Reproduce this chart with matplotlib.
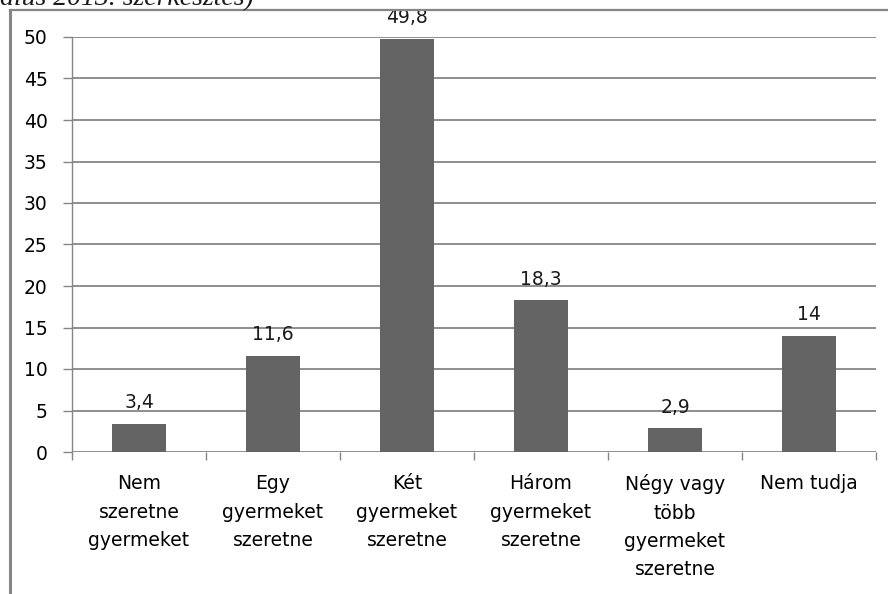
import matplotlib
matplotlib.use("Agg")
import matplotlib.pyplot as plt
from matplotlib.lines import Line2D

GRAY = "#868686"; BAR = "#646464"; INK = "#1a1a1a"
plt.rcParams.update({"font.family": ["DejaVu Sans"], "text.color": INK})

categories = ["Nem\nszeretne\ngyermeket", "Egy\ngyermeket\nszeretne", "Két\ngyermeket\nszeretne",
              "Három\ngyermeket\nszeretne", "Négy vagy\ntöbb\ngyermeket\nszeretne", "Nem tudja"]
values = [3.4, 11.6, 49.8, 18.3, 2.9, 14]
value_labels = ["3,4", "11,6", "49,8", "18,3", "2,9", "14"]
yticks = [0, 5, 10, 15, 20, 25, 30, 35, 40, 45, 50]

W, H = 888, 594
FS = 13.5
fig = plt.figure(figsize=(W / 100, H / 100), dpi=100)
ax = fig.add_axes([72 / W, 1 - 452 / H, (876 - 72) / W, (452 - 37) / H])

xs = list(range(len(categories)))
ax.bar(xs, values, width=0.4, color=BAR, zorder=3)
for x, v, lab in zip(xs, values, value_labels):
    ax.annotate(lab, (x, v), xytext=(0, 15), textcoords="offset points",
                ha="center", va="center", fontsize=FS, color=INK, zorder=4)

ax.set_xlim(-0.5, len(categories) - 0.5)
ax.set_ylim(0, 50)
ax.set_yticks(yticks)
ax.set_yticklabels([str(t) for t in yticks], fontsize=FS)
ax.set_xticks(xs)
ax.set_xticklabels(categories, fontsize=FS, linespacing=1.62, va="top")
ax.set_xticks([i - 0.5 for i in range(len(categories) + 1)], minor=True)
ax.tick_params(axis="x", which="major", length=0, pad=16)
ax.tick_params(axis="x", which="minor", length=6, width=1, color=GRAY, direction="out")
ax.tick_params(axis="y", length=6.5, width=1, color=GRAY, pad=11)
ax.yaxis.grid(True, color=GRAY, lw=1.3, zorder=0)
ax.set_axisbelow(True)
for s in ["top", "right", "bottom"]:
    ax.spines[s].set_visible(False)
ax.spines["left"].set_color(GRAY)
ax.spines["left"].set_linewidth(1)

# outer frame of the original picture (left and top edges)
fig.add_artist(Line2D([10 / W, 10 / W], [0, 1 - 10 / H], color=GRAY, lw=2.2, transform=fig.transFigure))
fig.add_artist(Line2D([10 / W, 1], [1 - 10 / H, 1 - 10 / H], color=GRAY, lw=1.6, transform=fig.transFigure))

# source line cut off at the top of the picture
fig.text(0, 1 - 5 / H, "alus 2013. szerkesztés)", fontsize=20, style="italic",
         family=["Liberation Serif", "DejaVu Serif"], ha="left", va="baseline", color=INK)

fig.savefig("out.png", dpi=100, facecolor="white")
